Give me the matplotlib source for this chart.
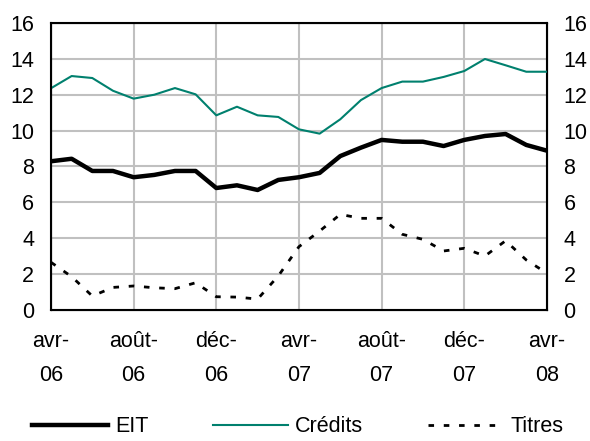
import matplotlib.pyplot as plt
import numpy as np

plt.rcParams['font.family'] = ['Liberation Sans', 'DejaVu Sans']

# monthly values, avr-06 .. avr-08
months = ["avr-\n06", "août-\n06", "déc-\n06", "avr-\n07", "août-\n07", "déc-\n07", "avr-\n08"]
eit = [8.29, 8.43, 7.75, 7.75, 7.40, 7.53, 7.75, 7.75, 6.80, 6.95, 6.69, 7.25, 7.40,
       7.64, 8.58, 9.05, 9.48, 9.38, 9.38, 9.14, 9.48, 9.70, 9.81, 9.20, 8.88]
credits = [12.36, 13.04, 12.93, 12.22, 11.78, 12.0, 12.37, 12.02, 10.85, 11.33, 10.85, 10.76, 10.07,
           9.83, 10.63, 11.7, 12.37, 12.73, 12.73, 12.99, 13.32, 13.99, 13.64, 13.28, 13.28]
titres = [2.66, 1.86, 0.78, 1.26, 1.34, 1.24, 1.19, 1.52, 0.74, 0.72, 0.61, 1.9, 3.53,
          4.4, 5.33, 5.11, 5.11, 4.22, 3.94, 3.29, 3.44, 3.01, 3.86, 2.79, 2.05]

x = np.arange(len(eit))
fs = 15.5

fig = plt.figure(figsize=(5.9, 4.41), dpi=100)
ax = fig.add_axes([0.0864, 0.297, 0.8406, 0.651])

ax.plot(x, eit, color='black', lw=3.2, label='EIT', zorder=3)
ax.plot(x, credits, color='#00806E', lw=1.5, label='Crédits', zorder=3)
ax.plot(x, titres, color='black', lw=2, linestyle=(0, (2, 3.5)), label='Titres', zorder=3)

ax.set_xlim(0, 24)
ax.set_ylim(0, 16)
ax.set_xticks(np.arange(0, 25, 4))
ax.set_xticklabels(months, linespacing=1.85)
ax.set_yticks(np.arange(0, 17, 2))
ax.grid(True, color='#C0C0C0', lw=1.5)
ax.set_axisbelow(True)
for s in ax.spines.values():
    s.set_linewidth(1.5)
ax.tick_params(length=0, labelsize=fs, pad=12)
ax.tick_params(axis='x', pad=15)

ax2 = ax.twinx()
ax2.set_ylim(0, 16)
ax2.set_yticks(np.arange(0, 17, 2))
ax2.tick_params(length=0, labelsize=fs, pad=12)

fig.legend(loc='center', bbox_to_anchor=(0.505, 0.032), ncol=3, frameon=False,
           fontsize=fs, handlelength=3.5, handletextpad=0.33, columnspacing=3.0,
           borderpad=0.2)

fig.savefig('out.png', dpi=100)
